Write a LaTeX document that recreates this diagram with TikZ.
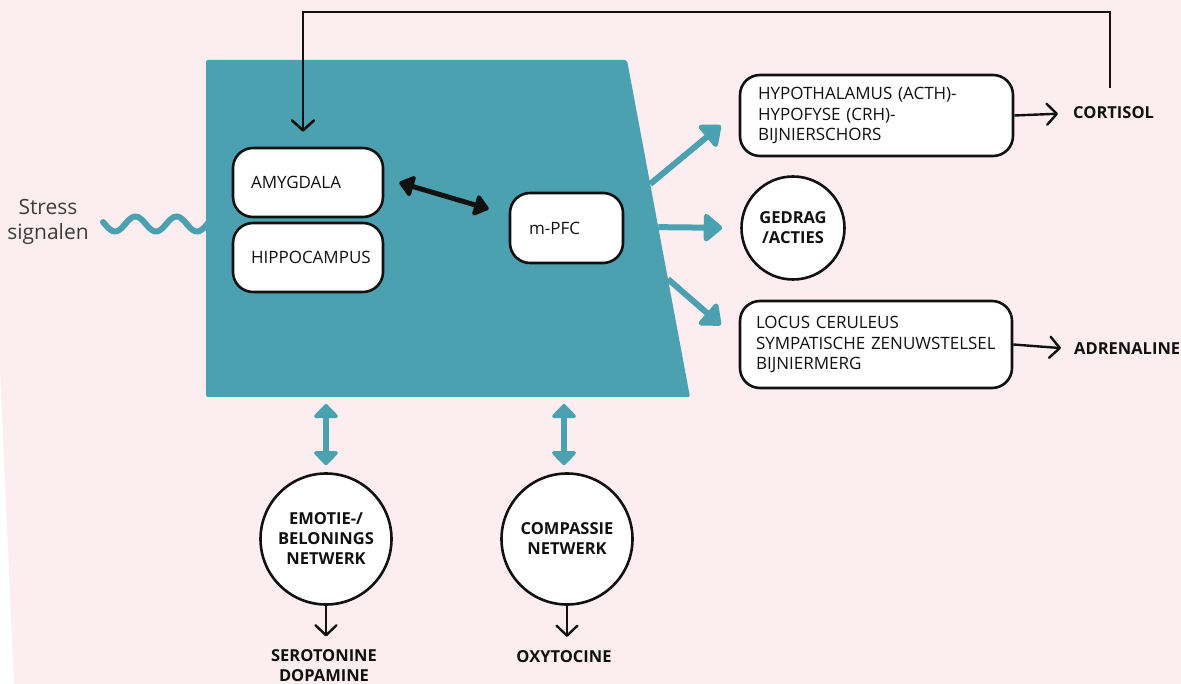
\documentclass[tikz,border=0pt]{standalone}
\usepackage{fontspec}
\setmainfont{Open Sans}
\usetikzlibrary{arrows.meta,calc}
\definecolor{bgpink}{HTML}{FCEDF0}
\definecolor{brainteal}{HTML}{4BA1AF}
\definecolor{inkgrey}{HTML}{3C3C3C}
\definecolor{ink}{HTML}{111111}
\begin{document}
\begin{tikzpicture}[x=1pt,y=-1pt,
  region/.style={draw=ink, line width=2.6pt, fill=white, rounded corners=20pt,
    inner xsep=18pt, inner ysep=0pt, align=left, text=ink,
    font=\fontsize{17}{20.5}\selectfont},
  hub/.style={draw=ink, line width=2.6pt, fill=white, circle, inner sep=0pt,
    align=center, text=ink, font=\fontsize{16.5}{20}\selectfont\bfseries},
  outlbl/.style={inner sep=0pt, text=ink, align=center,
    font=\fontsize{16.5}{19.5}\selectfont\bfseries},
  thinarrow/.style={draw=ink, line width=2.4pt,
    -{Straight Barb[length=10pt,width=21pt,round]}},
  tealarrow/.style={draw=brainteal, line width=6pt,
    -{Triangle[length=20pt,width=32pt,round]}},
  tealdbl/.style={draw=brainteal, line width=6pt,
    {Triangle[length=15pt,width=28pt,round]}-{Triangle[length=15pt,width=28pt,round]}},
  inkdbl/.style={draw=ink, line width=5pt,
    {Triangle[length=16pt,width=24pt,round]}-{Triangle[length=16pt,width=24pt,round]}}
]
\useasboundingbox (0,0) rectangle (1181,684);

% backdrop
\fill[bgpink] (0,0) rectangle (1181,684);
\fill[white] (0,370) -- (14,684) -- (0,684) -- cycle;

% incoming stress signal (wavelength 41, amplitude 7.5)
\node[inner sep=0pt, align=center, text=inkgrey, font=\fontsize{21}{25}\selectfont] (stress) at (48,222) {Stress\\signalen};
\draw[brainteal, line width=6pt, line cap=round]
  plot[domain=103:212, samples=90, smooth] (\x, {224 + 7.5*sin((\x-104.75)*8.7805)});

% the brain region (trapezoid)
\coordinate (tl) at (206,60);
\coordinate (tr) at (627,60);
\coordinate (br) at (690,397);
\coordinate (bl) at (206,397);
\fill[brainteal, rounded corners=2pt] (tl) -- (tr) -- (br) -- (bl) -- cycle;

% inner structures
\node[region, text width=114pt, minimum height=69pt] (amy) at (308,182.5) {\mbox{AMYGDALA}};
\node[region, text width=114pt, minimum height=69pt] (hip) at (308,257.5) {\mbox{HIPPOCAMPUS}};
\node[region, text width=75pt, inner xsep=19pt, minimum height=70pt] (pfc) at (566.5,228) {\mbox{m-PFC}};

% output systems
\node[region, text width=237pt, minimum height=81pt] (hypo) at (876.5,115.5)
  {\mbox{HYPOTHALAMUS (ACTH)-}\\\mbox{HYPOFYSE (CRH)-}\\\mbox{BIJNIERSCHORS}};
\node[hub, minimum size=103pt] (act) at (793,228) {GEDRAG\\/ACTIES};
\node[region, text width=240pt, inner xsep=16pt, minimum height=87pt] (lc) at (876,344.5)
  {\mbox{LOCUS CERULEUS}\\\mbox{SYMPATISCHE ZENUWSTELSEL}\\\mbox{BIJNIERMERG}};

\node[outlbl, anchor=base west] (cort) at (1073,119) {CORTISOL};
\node[outlbl, anchor=base west] (adr) at (1074,355) {ADRENALINE};

% networks below
\node[hub, minimum size=131pt] (emo) at (326,539) {EMOTIE-/\\BELONINGS\\NETWERK};
\node[hub, minimum size=131pt] (comp) at (567,539) {COMPASSIE\\NETWERK};
\node[outlbl] (sero) at (324,665.5) {SEROTONINE\\DOPAMINE};
\node[outlbl, anchor=base] (oxy) at (564,662) {OXYTOCINE};

% cortisol feedback loop
\coordinate (fb) at (1110,88);
\draw[draw=ink, line width=2.6pt, -{Straight Barb[length=10pt,width=22pt,round]}]
  (fb) -- ++(0,-76) -| ([xshift=-5pt,yshift=15pt]amy.north);

% hormone outputs
\draw[thinarrow, shorten >=15pt] (hypo.east) -- (cort.west);
\draw[thinarrow, shorten >=13pt] (lc.east) -- (adr.west);

% amygdala <-> m-PFC
\draw[inkdbl] ([xshift=15pt]amy.east) -- ([xshift=-20pt,yshift=19pt]pfc.west);

% outputs of the brain region
\coordinate (o1) at ($(tr)!0.368!(br)$);
\coordinate (o2) at ($(tr)!0.496!(br)$);
\coordinate (o3) at ($(tr)!0.65!(br)$);
\draw[tealarrow] (o1) -- ([xshift=-18pt,yshift=-10pt]hypo.west);
\draw[tealarrow, shorten >=18pt] (o2) -- (act.west);
\draw[tealarrow] (o3) -- ([xshift=-18pt,yshift=19.5pt]lc.west);

% links to the networks
\coordinate (d1) at (326,397);
\coordinate (d2) at (564,397);
\draw[tealdbl, shorten <=7pt, shorten >=7pt] (d1) -- (emo.north);
\draw[tealdbl, shorten <=7pt, shorten >=7pt] (d2) -- (d2 |- comp.north);

% neurotransmitters
\draw[thinarrow, shorten >=13pt] (emo.south) -- (emo.south |- sero.north);
\draw[thinarrow, shorten >=13pt] (comp.south) -- (comp.south |- oxy.north);
\end{tikzpicture}
\end{document}
